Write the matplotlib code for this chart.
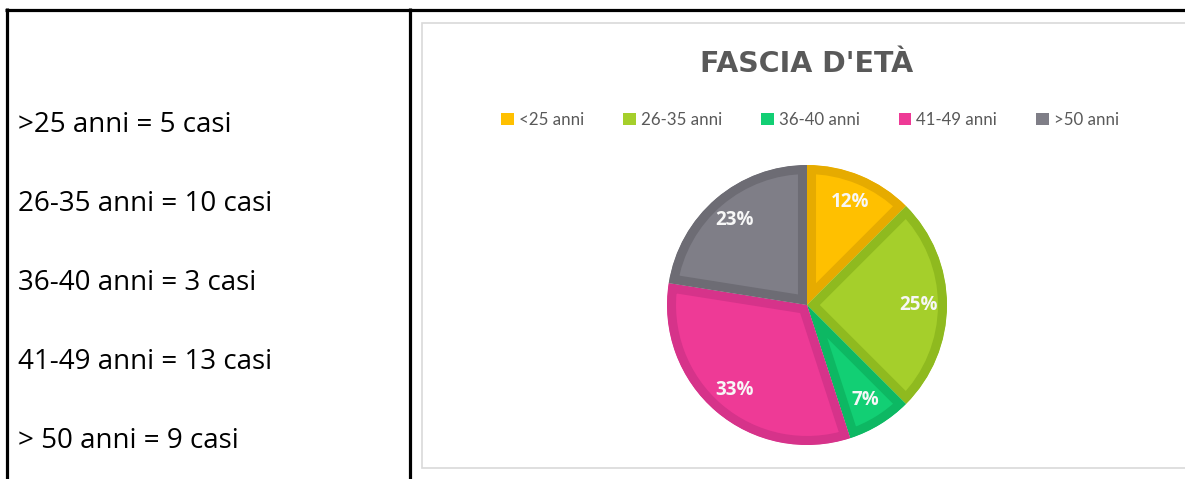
import matplotlib
matplotlib.use('Agg')

import numpy as np
import matplotlib.pyplot as plt
from matplotlib.patches import Rectangle, Patch

# dati
fasce = ['<25 anni', '26-35 anni', '36-40 anni', '41-49 anni', '>50 anni']
casi = [5, 10, 3, 13, 9]
etichette_pct = ['12%', '25%', '7%', '33%', '23%']
righe_testo = ['>25 anni = 5 casi', '26-35 anni = 10 casi', '36-40 anni = 3 casi',
               '41-49 anni = 13 casi', '> 50 anni = 9 casi']

colori = ['#FFC000', '#A5CF2B', '#12CF74', '#EE3A96', '#7F7E87']
bordi = ['#E6AB00', '#8FBA1F', '#0DB863', '#D6338A', '#6D6C74']

W, H = 1185, 479
fig = plt.figure(figsize=(W/100, H/100), dpi=100)
fig.patch.set_facecolor('white')

# sfondo in coordinate pixel
bg = fig.add_axes([0, 0, 1, 1])
bg.set_xlim(0, W)
bg.set_ylim(H, 0)
bg.axis('off')

# bordi della tabella
bg.plot([5, W], [9.5, 9.5], color='black', lw=2.3, solid_capstyle='butt')
bg.plot([6.5, 6.5], [8, H], color='black', lw=2.3, solid_capstyle='butt')
bg.plot([410, 410], [8, H], color='black', lw=2.3, solid_capstyle='butt')

# riquadro del grafico
bg.add_patch(Rectangle((422, 23), W - 422 + 10, 445, facecolor='white',
                       edgecolor='#D9D9D9', lw=1.2))

# testo cella sinistra
y0 = 132
for i, r in enumerate(righe_testo):
    bg.text(18, y0 + i * 79, r, fontsize=20, family='Open Sans', color='black',
            va='baseline', ha='left')

# titolo
bg.text(807, 64, "FASCIA D'ETÀ", fontsize=20.5, family='DejaVu Sans', fontweight='bold',
        color='#595959', ha='center', va='center')

# torta
cx, cy, r = 807, 305, 140
ax = fig.add_axes([(cx - r) / W, (H - cy - r) / H, 2 * r / W, 2 * r / H])
wedges, _ = ax.pie(casi, colors=colori, startangle=90, counterclock=False,
                   radius=1, wedgeprops=dict(linewidth=13))
ax.set_xlim(-1.0, 1.0)
ax.set_ylim(-1.0, 1.0)
ax.axis('off')
for w, b in zip(wedges, bordi):
    w.set_edgecolor(b)
    w.set_clip_on(True)
    w.set_clip_path(w.get_path(), ax.transData)

tot = sum(casi)
ang = 90.0
for v, lab in zip(casi, etichette_pct):
    a = ang - 360.0 * v / tot / 2
    ang -= 360.0 * v / tot
    d = 0.8
    ax.text(d * np.cos(np.radians(a)), d * np.sin(np.radians(a)), lab,
            ha='center', va='center', color='#F7F7F7', fontsize=13.5,
            fontweight='bold', family='Open Sans')

# legenda
handles = [Patch(facecolor=c, edgecolor='none') for c in colori]
leg = fig.legend(handles, fasce, loc='center', bbox_to_anchor=(810 / W, 1 - 120 / H),
                 ncol=5, frameon=False, handlelength=0.75, handleheight=0.75,
                 handletextpad=0.3, columnspacing=2.3,
                 prop={'family': 'Lato', 'size': 12.2})
for t in leg.get_texts():
    t.set_color('#595959')

fig.savefig('out.png', dpi=100)
